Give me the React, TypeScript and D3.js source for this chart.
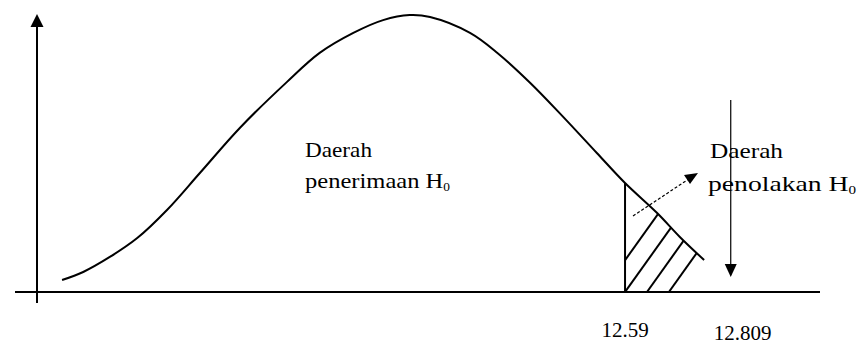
import React from "react";
import * as d3 from "d3";

// Curve (abstract units: x 0..100, density 0..100)
const curveX = [3.2, 5.9, 9.3, 12.8, 16.6, 20.8, 25.9, 31.9, 36.1, 40.4, 44.2, 47.6, 50.2, 55.3, 58.8, 63.0, 67.2, 71.5, 75.1, 79.2, 82.1, 85.2];
const curveY = [4.3, 7.2, 12.6, 19.4, 29.5, 42.8, 59.0, 75.5, 86.0, 93.2, 97.8, 99.6, 98.9, 93.2, 86.0, 75.2, 63.0, 50.0, 39.2, 28.4, 19.8, 11.5];

const criticalX = 75.1; // 12.59
const criticalLabel = "12.59";
const statX = 88.6; // 12.809
const statLabel = "12.809";
const hatchStarts = [72.2, 75.1, 77.9, 80.7];

const W = 859;
const H = 347;

export default function App() {
  const x = d3.scaleLinear().domain([0, 100]).range([37, 820]);
  const y = d3.scaleLinear().domain([0, 100]).range([292, 14]);
  const pts: [number, number][] = curveX.map((v, i) => [v, curveY[i]]);
  const line = d3
    .line<[number, number]>()
    .x((d) => x(d[0]))
    .y((d) => y(d[1]))
    .curve(d3.curveCatmullRom);
  const curvePath = line(pts) || "";

  const critIdx = curveX.indexOf(criticalX);
  const tail = pts.slice(critIdx);
  const area = d3
    .area<[number, number]>()
    .x((d) => x(d[0]))
    .y0(y(0))
    .y1((d) => y(d[1]))
    .curve(d3.curveCatmullRom);
  const tailPath = area(tail) || "";

  const slope = 1.4;
  const xAxisY = y(0);
  const critTopY = y(curveY[critIdx]);

  const sx = x(statX);
  const textStyle: React.CSSProperties = { fontFamily: '"Liberation Serif", "DejaVu Serif", serif' };

  return (
    <svg
      width={W}
      height={H}
      style={{ position: "absolute", left: 0, top: 0, background: "#fff" }}
    >
      <defs>
        <clipPath id="tailClip">
          <path d={tailPath} />
        </clipPath>
      </defs>
      <rect width={W} height={H} fill="#fff" />
      {/* x axis */}
      <line x1={15} x2={820} y1={xAxisY} y2={xAxisY} stroke="#000" strokeWidth={2} />
      {/* y axis */}
      <line x1={x(0)} x2={x(0)} y1={303} y2={26} stroke="#000" strokeWidth={2} />
      <path d={`M${x(0)},14 L${x(0) - 6.5},27 L${x(0) + 6.5},27 Z`} fill="#000" />
      {/* curve */}
      <path d={curvePath} fill="none" stroke="#000" strokeWidth={2} />
      {/* critical line */}
      <line x1={x(criticalX)} x2={x(criticalX)} y1={xAxisY} y2={critTopY} stroke="#000" strokeWidth={2} />
      {/* hatch */}
      <g clipPath="url(#tailClip)">
        {hatchStarts.map((h, i) => {
          const x0 = x(h);
          return (
            <line
              key={i}
              x1={x0}
              y1={xAxisY}
              x2={x0 + 200 / slope}
              y2={xAxisY - 200}
              stroke="#000"
              strokeWidth={2}
            />
          );
        })}
      </g>
      {/* dashed arrow */}
      <line x1={633} y1={216} x2={688} y2={179.5} stroke="#000" strokeWidth={1.2} strokeDasharray="3,2" />
      <path d="M698,173 L684,175 L690,184 Z" fill="#000" />
      {/* down arrow */}
      <line x1={sx} x2={sx} y1={100} y2={266} stroke="#000" strokeWidth={1.2} />
      <path d={`M${sx},277 L${sx - 6},264 L${sx + 6},264 Z`} fill="#000" />
      {/* texts */}
      <g style={textStyle}>
        <text x={305} y={157} fontSize={22} textLength={67} lengthAdjust="spacingAndGlyphs">Daerah</text>
        <text x={305} y={188} fontSize={22} textLength={145} lengthAdjust="spacingAndGlyphs">
          penerimaan H<tspan fontSize={12} dy={3}>0</tspan>
        </text>
        <text x={710} y={158} fontSize={22} textLength={73} lengthAdjust="spacingAndGlyphs">Daerah</text>
        <text x={708} y={191} fontSize={22} textLength={148} lengthAdjust="spacingAndGlyphs">
          penolakan H<tspan fontSize={12} dy={3}>0</tspan>
        </text>
        <text x={x(criticalX)} y={337} fontSize={21} textAnchor="middle">{criticalLabel}</text>
        <text x={sx + 12} y={340} fontSize={21} textAnchor="middle">{statLabel}</text>
      </g>
    </svg>
  );
}
